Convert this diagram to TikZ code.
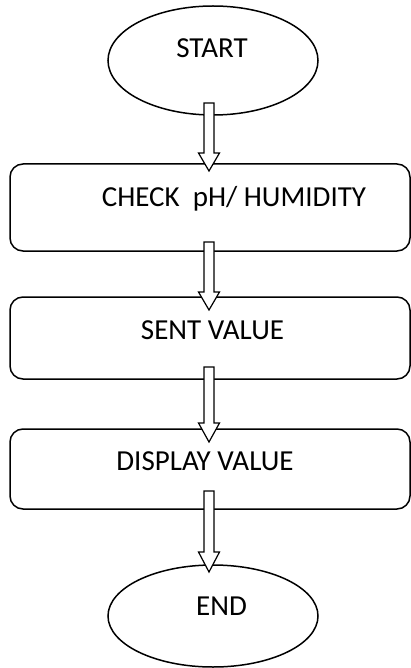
\documentclass[tikz,border=0pt]{standalone}
\usepackage{fontspec}
\setmainfont{Carlito}
\usetikzlibrary{shapes.geometric}
\tikzset{
  term/.style={draw, ellipse, line width=1.5pt, inner sep=0pt},
  procbox/.style={draw, rectangle, rounded corners=13pt, line width=1.5pt, inner sep=0pt},
  lbl/.style={font=\fontsize{29}{34}\selectfont, inner sep=0pt, anchor=base},
  blockarrow/.style={draw, fill=white, line width=1.2pt, line join=miter}
}
\begin{document}
\begin{tikzpicture}[x=1pt,y=-1pt]
\useasboundingbox (0,0) rectangle (411,668);
\node[term, minimum width=210pt, minimum height=109pt] (start) at (213,60.5) {};
\node[lbl] (startt) at (212,58) {START};
\node[procbox, minimum width=400pt, minimum height=87pt] (b1) at (210,207.5) {};
\node[lbl] (b1t) at (234,207) {CHECK\ \ pH/ HUMIDITY};
\node[procbox, minimum width=400pt, minimum height=82pt] (b2) at (210,338) {};
\node[lbl] (b2t) at (212.5,339) {SENT VALUE};
\node[procbox, minimum width=400pt, minimum height=80pt] (b3) at (210,469) {};
\node[lbl] (b3t) at (205,470) {DISPLAY VALUE};
\node[term, minimum width=210pt, minimum height=102pt] (end) at (213,616) {};
\node[lbl] (endt) at (221.5,615) {END};
% block arrows
\foreach \top/\head/\tip in {103/153/171, 242/292/310, 367/423/442, 491/552/572}{
  \draw[blockarrow] (204,\top) -- (214,\top) -- (214,\head) -- (219.5,\head) -- (209,\tip) -- (198.5,\head) -- (204,\head) -- cycle;
}
\end{tikzpicture}
\end{document}
